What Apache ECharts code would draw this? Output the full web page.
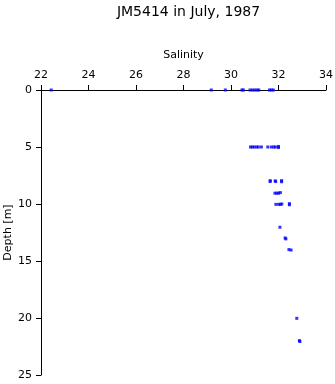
<!DOCTYPE html>
<html><head><meta charset="utf-8">
<script src="https://cdn.jsdelivr.net/npm/echarts@6/dist/echarts.min.js"></script>
<style>html,body{margin:0;padding:0;background:#fff}#c{width:335px;height:384px}</style>
</head><body><div id="c"></div>
<script>
const salinity = [22.43, 29.17, 29.76, 30.46, 30.52, 30.8, 30.9, 31.0, 31.1, 31.17, 31.62, 31.7, 31.78,
  30.82, 30.9, 30.98, 31.08, 31.15, 31.28, 31.55, 31.7, 31.8, 31.87, 32.0, 32.0,
  31.65, 31.65, 31.86, 31.88, 32.13, 32.13,
  31.85, 31.93, 32.0, 32.08,
  31.89, 32.01, 32.08, 32.14, 32.46, 32.46,
  32.06, 32.28, 32.31, 32.44, 32.53, 32.77, 32.88, 32.9];
const depth = [0, 0, 0, 0, 0, 0, 0, 0, 0, 0, 0, 0, 0,
  5.0, 5.0, 5.0, 5.0, 5.0, 5.0, 5.0, 5.0, 5.0, 5.0, 4.95, 5.05,
  7.95, 8.03, 7.97, 8.03, 7.95, 8.05,
  9.05, 9.05, 9.05, 9.0,
  10.03, 10.03, 10.03, 10.0, 9.97, 10.07,
  12.04, 12.98, 13.06, 14.0, 14.04, 20.03, 21.98, 22.06];
const xTicks = [22, 24, 26, 28, 30, 32, 34];
const yTicks = [0, 5, 10, 15, 20, 25];
const points = salinity.map((s, i) => [s, depth[i]]);
const font = '"DejaVu Sans", sans-serif';
const chart = echarts.init(document.getElementById('c'), null, {renderer: 'canvas'});
chart.setOption({
  animation: false,
  title: {text: 'JM5414 in July, 1987', left: 183.5, textAlign: 'center', top: 0,
    textStyle: {fontFamily: font, fontSize: 14, fontWeight: 'normal', color: '#000'}},
  grid: {left: 41, right: 9, top: 90, bottom: 9, containLabel: false, outerBoundsMode: 'none'},
  xAxis: {type: 'value', position: 'top', min: xTicks[0], max: xTicks[xTicks.length - 1], interval: 2,
    name: 'Salinity', nameLocation: 'middle', nameGap: 29, nameMoveOverlap: false,
    nameTextStyle: {fontFamily: font, fontSize: 11, color: '#000'},
    axisLine: {show: true, lineStyle: {color: '#000', width: 1}},
    axisTick: {show: true, inside: false, length: 5, lineStyle: {color: '#000'}},
    axisLabel: {fontFamily: font, fontSize: 11, color: '#000', margin: 9},
    splitLine: {show: false}},
  yAxis: {type: 'value', inverse: true, min: yTicks[0], max: yTicks[yTicks.length - 1], interval: 5,
    name: 'Depth [m]', nameLocation: 'middle', nameGap: 27, nameRotate: 90, nameMoveOverlap: false,
    nameTextStyle: {fontFamily: font, fontSize: 11, color: '#000'},
    axisLine: {show: true, lineStyle: {color: '#000', width: 1}},
    axisTick: {show: true, inside: false, length: 5, lineStyle: {color: '#000'}},
    axisLabel: {fontFamily: font, fontSize: 11, color: '#000', margin: 9},
    splitLine: {show: false}},
  series: [{type: 'scatter', data: points, symbol: 'rect', symbolSize: 3,
    itemStyle: {color: '#0000ff'}}]
});
</script></body></html>
